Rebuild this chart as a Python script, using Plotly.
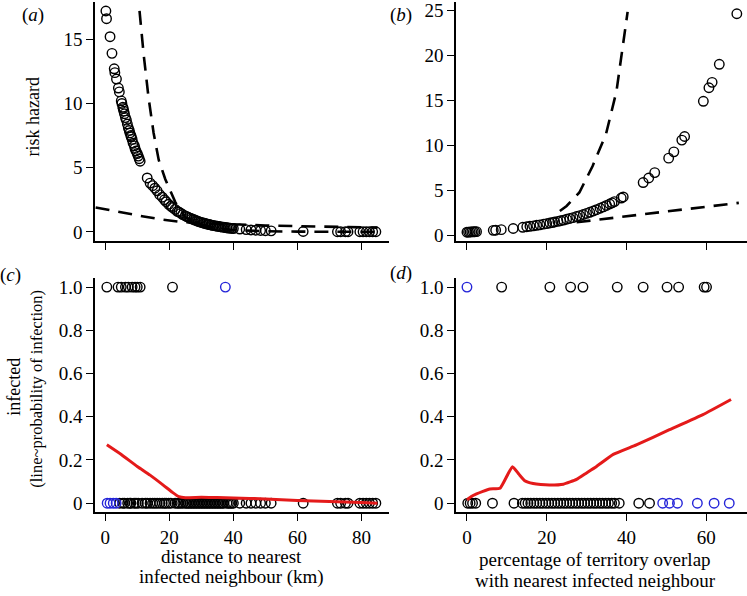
import plotly.graph_objects as go

# ---------------- data ----------------
# panel (a): distance (km) vs risk hazard
a_dist = [0.2, 0.4, 1.5, 2.1, 2.8, 3.0, 3.5, 4.1, 4.4, 5.0, 5.2, 5.5, 5.6, 5.8, 6.0, 6.3, 6.6, 6.9,
          7.2, 7.5, 7.7, 8.0, 8.1, 8.4, 8.7, 9.1, 9.3, 9.6, 10.0, 10.3, 10.6, 10.9,
          13.1, 14.0, 14.8, 15.5, 16.2, 17.0, 17.8, 18.5, 19.0, 19.8, 20.5, 21.0, 21.8, 22.5, 23.0,
          23.6, 24.2, 25.0, 25.5, 26.0, 26.5, 27.0, 27.5, 28.0, 28.5, 29.0, 29.5, 30.0, 30.5, 31.0,
          31.5, 32.0, 32.5, 33.0, 33.5, 34.0, 34.5, 35.0, 35.5, 36.0, 36.5, 37.0, 37.5, 38.0, 38.5,
          39.0, 39.5, 40.0, 42.0, 44.0, 45.5, 47.0, 48.5, 50.0, 51.8, 61.8, 72.5, 73.5, 75.0, 75.8,
          79.5, 80.5, 81.5, 82.5, 83.5, 84.5]
a_hazard = [17.2, 16.6, 15.2, 13.9, 12.7, 12.4, 11.9, 11.2, 10.9, 10.2, 10.0, 9.7, 9.6, 9.4, 9.2, 8.9,
            8.7, 8.4, 8.1, 7.9, 7.7, 7.5, 7.4, 7.2, 6.9, 6.7, 6.5, 6.3, 6.1, 5.9, 5.7, 5.5,
            4.2, 3.8, 3.6, 3.4, 3.2, 2.9, 2.7, 2.5, 2.35, 2.15, 2.0, 1.9, 1.75, 1.6, 1.55,
            1.45, 1.35, 1.25, 1.19, 1.13, 1.07, 1.02, 0.97, 0.92, 0.87, 0.82, 0.78, 0.74, 0.70, 0.67,
            0.63, 0.60, 0.57, 0.54, 0.51, 0.49, 0.46, 0.44, 0.42, 0.40, 0.37, 0.36, 0.34, 0.32, 0.30,
            0.29, 0.27, 0.26, 0.22, 0.18, 0.15, 0.13, 0.11, 0.09, 0.08, 0.03, 0.01, 0.01, 0.01, 0.01,
            0.01, 0.01, 0.01, 0.01, 0.01, 0.01]
a_steep_x = [10.7, 12.0, 13.5, 15.1, 16.7, 18.75, 21.9, 25.0, 30.0, 35.0, 40.0, 50.0, 60.0, 70.0, 85.0]
a_steep_y = [17.2, 13.8, 10.5, 7.7, 5.6, 4.1, 2.3, 1.15, 0.55, 0.28, 0.14, 0.05, 0.02, 0.01, 0.0]
a_flat_x = [-3.0, 5.0, 12.0, 18.0, 23.0, 30.0, 40.0, 50.0, 60.0, 70.0, 85.0]
a_flat_y = [1.9, 1.5, 1.2, 0.95, 0.8, 0.68, 0.57, 0.5, 0.45, 0.4, 0.33]

# panel (b): territory overlap (%) vs risk hazard
b_overlap = [0.0, 0.4, 0.8, 1.2, 1.6, 2.0, 2.4, 6.6, 7.2, 8.6, 11.6, 14.0, 15.0, 15.8, 16.7, 17.5,
             18.3, 19.2, 20.0, 20.8, 21.5, 22.0, 22.8, 23.5, 24.2, 25.0, 25.8, 26.6, 27.5, 28.3,
             29.2, 30.0, 30.8, 31.7, 32.5, 33.4, 34.2, 35.0, 35.8, 36.4, 37.0, 38.7, 39.2, 44.2,
             45.6, 47.1, 50.6, 51.9, 53.9, 54.6, 59.3, 60.7, 61.5, 63.3, 67.7]
b_hazard = [0.40, 0.41, 0.42, 0.43, 0.44, 0.45, 0.46, 0.60, 0.62, 0.68, 0.81, 0.94, 1.00, 1.05, 1.10,
            1.16, 1.21, 1.29, 1.35, 1.42, 1.48, 1.53, 1.60, 1.67, 1.74, 1.83, 1.92, 2.01, 2.13, 2.23,
            2.36, 2.48, 2.60, 2.75, 2.89, 3.05, 3.20, 3.36, 3.52, 3.65, 3.79, 4.18, 4.30, 5.9,
            6.4, 7.0, 8.6, 9.3, 10.6, 11.0, 14.9, 16.4, 17.0, 19.0, 24.6]
b_steep_x = [23.3, 25.0, 28.2, 31.5, 34.9, 37.5, 40.3]
b_steep_y = [2.75, 3.3, 4.8, 7.7, 11.3, 16.0, 24.8]
b_flat_x = [27.5, 35.0, 42.0, 51.6, 60.0, 68.2]
b_flat_y = [1.5, 1.9, 2.25, 2.75, 3.2, 3.65]

# panel (c): infected (0/1) vs distance
c_black_1 = [0.5, 4.0, 5.0, 6.3, 7.2, 8.4, 9.3, 10.0, 10.9, 21.0]
c_blue_1 = [37.5]
c_blue_0 = [0.6, 1.5, 2.5, 3.4]
c_black_0 = [4.5, 5.5, 6.0, 7.0, 7.7, 8.0, 9.0, 9.6, 10.3, 11.5, 12.5, 13.1, 14.0, 14.8, 15.5, 16.2,
             17.0, 17.8, 18.5, 19.0, 19.8, 20.5, 21.8, 22.5, 23.0, 23.6, 24.2, 25.0, 25.5, 26.0,
             26.5, 27.0, 27.5, 28.0, 28.5, 29.0, 29.5, 30.0, 30.5, 31.0, 31.5, 32.0, 32.5, 33.0,
             33.5, 34.0, 34.5, 35.0, 35.5, 36.0, 36.5, 37.0, 38.0, 38.5, 39.0, 39.5, 40.0, 42.0,
             44.0, 45.5, 47.0, 48.5, 50.0, 51.8, 61.8, 72.5, 73.5, 75.0, 75.8, 79.5, 80.5, 81.5,
             82.5, 83.5, 84.5]
c_prob_x = [0.5, 5.0, 10.0, 14.0, 18.0, 21.0, 23.0, 25.0, 30.0, 35.0, 40.0, 50.0, 60.0, 70.0, 80.0, 85.0]
c_prob_y = [0.27, 0.225, 0.17, 0.13, 0.085, 0.05, 0.03, 0.025, 0.027, 0.026, 0.024, 0.02, 0.013, 0.008, 0.003, 0.0]

# panel (d): infected (0/1) vs overlap
d_black_1 = [8.7, 20.8, 26.0, 29.1, 37.7, 44.2, 50.2, 53.1, 59.5, 60.1]
d_blue_1 = [0.0]
d_blue_0 = [49.1, 50.8, 52.8, 57.8, 62.0, 65.8]
d_black_0 = [0.2, 0.8, 1.4, 2.2, 6.4, 11.8, 13.9, 14.6, 15.3, 16.0, 16.8, 17.5, 18.3, 19.0, 19.8,
             20.5, 21.3, 22.0, 22.8, 23.5, 24.3, 25.0, 25.8, 26.5, 27.3, 28.0, 28.8, 29.5, 30.3,
             31.0, 31.8, 32.5, 33.3, 34.0, 34.8, 35.5, 36.3, 37.0, 38.2, 43.1, 45.8]
d_prob_x = [0.0, 1.0, 2.4, 4.0, 5.75, 8.3, 11.4, 13.0, 14.5, 16.6, 18.5, 20.8, 24.2, 27.5, 30.0,
            32.5, 36.7, 42.5, 50.8, 59.2, 66.25]
d_prob_y = [0.015, 0.03, 0.043, 0.055, 0.066, 0.069, 0.169, 0.135, 0.104, 0.091, 0.086, 0.084,
            0.088, 0.11, 0.14, 0.17, 0.226, 0.27, 0.34, 0.41, 0.48]

y_prob_ticks = [0, 0.2, 0.4, 0.6, 0.8, 1.0]
y_prob_labels = ["0", "0.2", "0.4", "0.6", "0.8", "1.0"]

# ---------------- figure ----------------
W, H = 747, 596
FONT = "Liberation Serif, Times New Roman, Times, serif"
BLUE = "#2424d8"
RED = "#e41a1a"
TICK_SIZE = 19
TITLE_SIZE = 19

fig = go.Figure()

def circles(x, y, xa, ya, color="black"):
    fig.add_trace(go.Scatter(x=x, y=y, xaxis=xa, yaxis=ya, mode="markers",
                             marker=dict(symbol="circle-open", size=9.5, color=color,
                                         line=dict(width=1.4, color=color)),
                             showlegend=False, hoverinfo="skip", cliponaxis=False))

def dashed(x, y, xa, ya):
    fig.add_trace(go.Scatter(x=x, y=y, xaxis=xa, yaxis=ya, mode="lines",
                             line=dict(color="black", width=2.6, dash="14px,9px"),
                             showlegend=False, hoverinfo="skip"))

def redline(x, y, xa, ya):
    fig.add_trace(go.Scatter(x=x, y=y, xaxis=xa, yaxis=ya, mode="lines",
                             line=dict(color=RED, width=3, shape="spline", smoothing=0.4),
                             showlegend=False, hoverinfo="skip"))

# (a)
circles(a_dist, a_hazard, "x", "y")
dashed(a_steep_x, a_steep_y, "x", "y")
dashed(a_flat_x, a_flat_y, "x", "y")
# (b)
circles(b_overlap, b_hazard, "x2", "y2")
dashed(b_steep_x, b_steep_y, "x2", "y2")
dashed(b_flat_x, b_flat_y, "x2", "y2")
# (c)
circles(c_black_1, [1] * len(c_black_1), "x3", "y3")
circles(c_black_0, [0] * len(c_black_0), "x3", "y3")
circles(c_blue_1, [1] * len(c_blue_1), "x3", "y3", BLUE)
circles(c_blue_0, [0] * len(c_blue_0), "x3", "y3", BLUE)
redline(c_prob_x, c_prob_y, "x3", "y3")
# (d)
circles(d_black_1, [1] * len(d_black_1), "x4", "y4")
circles(d_black_0, [0] * len(d_black_0), "x4", "y4")
circles(d_blue_1, [1] * len(d_blue_1), "x4", "y4", BLUE)
circles(d_blue_0, [0] * len(d_blue_0), "x4", "y4", BLUE)
redline(d_prob_x, d_prob_y, "x4", "y4")

def px_x(p):
    return p / W

def px_y(p):
    return 1 - p / H

axis_common = dict(showline=True, linecolor="black", linewidth=1.5, ticks="outside",
                   ticklen=7, tickwidth=1.3, tickcolor="black", showgrid=False, zeroline=False,
                   ticklabeloverflow="allow",
                   tickfont=dict(family=FONT, size=TICK_SIZE, color="black"), fixedrange=True)

left_dom = [px_x(95), px_x(389)]
right_dom = [px_x(456), 1.0]
top_dom = [px_y(242), 1.0]
bot_dom = [px_y(517), px_y(280)]

fig.update_layout(
    width=W, height=H, margin=dict(l=0, r=0, t=0, b=0),
    paper_bgcolor="white", plot_bgcolor="white",
    font=dict(family=FONT, color="black"),
    xaxis=dict(domain=left_dom, anchor="y", range=[-3.2, 88.6], tickvals=[0, 20, 40, 60, 80],
               showticklabels=False, **axis_common),
    yaxis=dict(domain=top_dom, anchor="x", range=[-0.69, 17.9], tickvals=[0, 5, 10, 15], **axis_common),
    xaxis2=dict(domain=right_dom, anchor="y2", range=[-2.75, 70.25], tickvals=[0, 20, 40, 60],
                showticklabels=False, **axis_common),
    yaxis2=dict(domain=top_dom, anchor="x2", range=[-0.55, 25.9], tickvals=[0, 5, 10, 15, 20, 25],
                **axis_common),
    xaxis3=dict(domain=left_dom, anchor="y3", range=[-3.2, 88.6], tickvals=[0, 20, 40, 60, 80],
                **axis_common),
    yaxis3=dict(domain=bot_dom, anchor="x3", range=[-0.041, 1.041], tickvals=y_prob_ticks,
                ticktext=y_prob_labels, **axis_common),
    xaxis4=dict(domain=right_dom, anchor="y4", range=[-2.75, 70.25], tickvals=[0, 20, 40, 60],
                **axis_common),
    yaxis4=dict(domain=bot_dom, anchor="x4", range=[-0.041, 1.041], tickvals=y_prob_ticks,
                ticktext=y_prob_labels, **axis_common),
)

def text(x, y, s, size=TITLE_SIZE, angle=0):
    fig.add_annotation(x=px_x(x), y=px_y(y), xref="paper", yref="paper", text=s, showarrow=False,
                       textangle=angle, font=dict(family=FONT, size=size, color="black"),
                       xanchor="center", yanchor="middle")

text(33, 117, "risk hazard", 18, -90)
text(14, 390, "infected", 18, -90)
text(37, 392, "(line~probability of infection)", 16.5, -90)
text(232, 562, "distance to nearest", TITLE_SIZE)
text(232, 583, "infected neighbour (km)", TITLE_SIZE)
text(595, 565, "percentage of territory overlap", TITLE_SIZE)
text(595, 586, "with nearest infected neighbour", TITLE_SIZE)
text(33, 13, "(<i>a</i>)", TITLE_SIZE)
text(401, 13, "(<i>b</i>)", TITLE_SIZE)
text(10, 277, "(<i>c</i>)", TITLE_SIZE)
text(401, 275, "(<i>d</i>)", TITLE_SIZE)

fig.write_html("out.html", config={"displayModeBar": False},
               post_script="document.body.style.margin='0';")
